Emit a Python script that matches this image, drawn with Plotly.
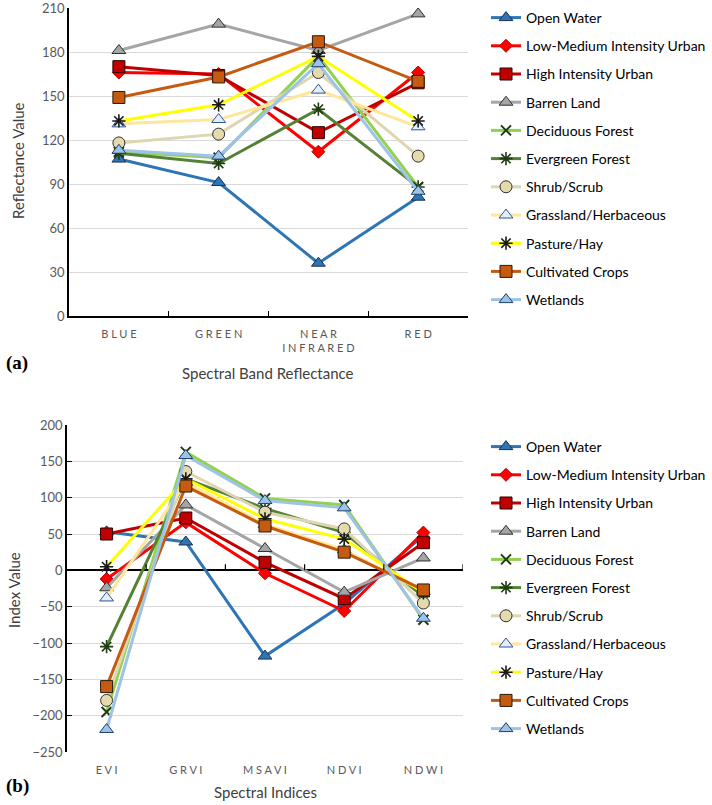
import plotly.graph_objects as go

# ---------------- data ----------------
bands = ["BLUE", "GREEN", "NEAR INFRARED", "RED"]
band_labels = ["B L U E", "G R E E N", "N E A R<br>I N F R A R E D", "R E D"]
indices = ["EVI", "GRVI", "MSAVI", "NDVI", "NDWI"]
index_labels = ["E V I", "G R V I", "M S A V I", "N D V I", "N D W I"]

classes = ["Open Water", "Low-Medium Intensity Urban", "High Intensity Urban",
           "Barren Land", "Deciduous Forest", "Evergreen Forest", "Shrub/Scrub",
           "Grassland/Herbaceous", "Pasture/Hay", "Cultivated Crops", "Wetlands"]

# reflectance per band (BLUE, GREEN, NEAR INFRARED, RED)
refl_open_water = [107, 91, 36, 81]
refl_low_med_urban = [166, 165, 112, 166]
refl_high_urban = [170, 164, 125, 159]
refl_barren = [181, 199, 181, 206]
refl_deciduous = [112, 108, 177, 88]
refl_evergreen = [111, 104, 141, 88]
refl_shrub = [118, 124, 166, 109]
refl_grassland = [131, 134, 154, 129]
refl_pasture = [133, 144, 177, 133]
refl_cultivated = [149, 163, 187, 160]
refl_wetlands = [113, 109, 172, 85]

# index values (EVI, GRVI, MSAVI, NDVI, NDWI)
idx_open_water = [53, 39, -118, -46, 48]
idx_low_med_urban = [-12, 66, -4, -56, 52]
idx_high_urban = [50, 72, 11, -39, 38]
idx_barren = [-24, 90, 30, -30, 17]
idx_deciduous = [-195, 163, 99, 90, -68]
idx_evergreen = [-105, 126, 85, 52, -36]
idx_shrub = [-179, 136, 80, 57, -45]
idx_grassland = [-38, 121, 63, 28, -29]
idx_pasture = [5, 126, 71, 43, -31]
idx_cultivated = [-160, 116, 61, 25, -27]
idx_wetlands = [-219, 158, 96, 86, -66]

refl_values = [refl_open_water, refl_low_med_urban, refl_high_urban, refl_barren,
               refl_deciduous, refl_evergreen, refl_shrub, refl_grassland,
               refl_pasture, refl_cultivated, refl_wetlands]
idx_values = [idx_open_water, idx_low_med_urban, idx_high_urban, idx_barren,
              idx_deciduous, idx_evergreen, idx_shrub, idx_grassland,
              idx_pasture, idx_cultivated, idx_wetlands]

# ---------------- styles ----------------
line_colors = ["#2E75B6", "#FF0000", "#C00000", "#A5A5A5", "#92D050", "#548235",
               "#DDD6B0", "#FFE699", "#FFFF00", "#C55A11", "#9DC3E6"]
marker_symbols = ["triangle-up", "diamond", "square", "triangle-up", "x-thin",
                  "asterisk-open", "circle", "triangle-up", "asterisk-open",
                  "square", "triangle-up"]
marker_fills = ["#2E75B6", "#FF0000", "#C00000", "#A5A5A5", "#92D050", "#1E3B12",
                "#E4DAAB", "#E3EEF9", "#1A1A1A", "#C55A11", "#9DC3E6"]
marker_lines = ["#1F2F4F", "#B00000", "#2A0000", "#303030", "#1E3B12", "#1E3B12",
                "#303030", "#2F5597", "#1A1A1A", "#2A1A0A", "#1F3F6F"]
marker_sizes = [12, 10, 12, 12, 10, 11, 12, 12, 11, 12, 12]
marker_lw = [1, 1, 1, 1, 2, 1.6, 1, 1, 1.6, 1, 1]

W, H = 712, 805
FONT = "Lato"

fig = go.Figure()

for i, name in enumerate(classes):
    mk = dict(symbol=marker_symbols[i], size=marker_sizes[i], color=marker_fills[i],
              line=dict(color=marker_lines[i], width=marker_lw[i]))
    fig.add_trace(go.Scatter(
        x=bands, y=refl_values[i], name=name, mode="lines+markers",
        line=dict(color=line_colors[i], width=3), marker=mk,
        xaxis="x", yaxis="y", legend="legend", legendgroup="a%d" % i))
for i, name in enumerate(classes):
    mk = dict(symbol=marker_symbols[i], size=marker_sizes[i], color=marker_fills[i],
              line=dict(color=marker_lines[i], width=marker_lw[i]))
    fig.add_trace(go.Scatter(
        x=indices, y=idx_values[i], name=name, mode="lines+markers",
        line=dict(color=line_colors[i], width=3), marker=mk,
        xaxis="x2", yaxis="y2", legend="legend2", legendgroup="b%d" % i))

def px(v):
    return v / W

def py(v):
    return 1 - v / H

tick_font = dict(family=FONT, size=13, color="#595959")
cat_font = dict(family=FONT, size=11, color="#595959")
leg_font = dict(family=FONT, size=14, color="#000000")

# top chart: plot area x 69..468, y 8..316
# bottom chart: plot area x 67..463, y 425..752
fig.update_layout(
    width=W, height=H,
    margin=dict(l=0, r=0, t=0, b=0, autoexpand=False),
    paper_bgcolor="white", plot_bgcolor="white",
    font=dict(family=FONT, color="#404040"),
    showlegend=True,
    xaxis=dict(domain=[px(69), px(468)], anchor="y", type="category",
               categoryorder="array", categoryarray=bands,
               tickmode="array", tickvals=bands, ticktext=band_labels,
               range=[-0.5, 3.5], showgrid=False, zeroline=False,
               showline=True, linecolor="#000000", linewidth=1.5,
               ticks="inside", tickson="boundaries", ticklen=5,
               tickcolor="#000000", tickfont=cat_font, automargin=False,
               ticklabelstandoff=7, ticklabeloverflow="allow"),
    yaxis=dict(domain=[py(316), py(8)], anchor="x", range=[0, 210], dtick=30,
               tick0=0, showgrid=True, gridcolor="#D9D9D9", gridwidth=1.2,
               zeroline=False, showline=True, linecolor="#000000", linewidth=1.5,
               ticks="", tickfont=tick_font, automargin=False,
               ticklabeloverflow="allow"),
    xaxis2=dict(domain=[px(67), px(463)], anchor="y2", type="category",
                categoryorder="array", categoryarray=indices,
                tickmode="array", tickvals=indices, ticktext=index_labels,
                range=[-0.5, 4.5], showgrid=False, zeroline=False,
                showline=False, ticks="", tickfont=cat_font,
                ticklabelstandoff=10, automargin=False, ticklabeloverflow="allow"),
    yaxis2=dict(domain=[py(752), py(425)], anchor="x2", range=[-250, 200], dtick=50,
                tick0=0, showgrid=True, gridcolor="#D9D9D9", gridwidth=1.2,
                zeroline=True, zerolinecolor="#000000", zerolinewidth=1.5,
                showline=True, linecolor="#000000", linewidth=1.5,
                ticks="inside", ticklen=5, tickcolor="#000000", tickfont=tick_font,
                automargin=False, ticklabeloverflow="allow"),
    legend=dict(x=px(486), y=py(2), xanchor="left", yanchor="top",
                font=leg_font, tracegroupgap=7, bgcolor="rgba(0,0,0,0)",
                itemwidth=30),
    legend2=dict(x=px(486), y=py(431), xanchor="left", yanchor="top",
                 font=leg_font, tracegroupgap=7, bgcolor="rgba(0,0,0,0)",
                 itemwidth=30),
)

# tick marks on the zero line of the bottom chart (category boundaries)
for k in range(len(indices)):
    fig.add_shape(type="line", xref="x2", yref="y2", x0=k + 0.5, x1=k + 0.5,
                  ysizemode="pixel", yanchor=0, y0=0, y1=6,
                  line=dict(color="#000000", width=1.2))

ann = [
    dict(text="Reflectance Value", x=px(18), y=py(161), textangle=-90,
         xanchor="center", font=dict(family=FONT, size=15, color="#404040")),
    dict(text="Index Value", x=px(14), y=py(590), textangle=-90,
         xanchor="center", font=dict(family=FONT, size=15, color="#404040")),
    dict(text="Spectral Band Reflectance", x=px(268), y=py(373),
         xanchor="center", font=dict(family=FONT, size=15, color="#404040")),
    dict(text="Spectral Indices", x=px(265), y=py(792),
         xanchor="center", font=dict(family=FONT, size=15, color="#404040")),
    dict(text="<b>(a)</b>", x=px(4), y=py(363), xanchor="left",
         font=dict(family="Liberation Serif", size=19, color="#000000")),
    dict(text="<b>(b)</b>", x=px(4), y=py(786), xanchor="left",
         font=dict(family="Liberation Serif", size=19, color="#000000")),
]
for a in ann:
    fig.add_annotation(xref="paper", yref="paper", showarrow=False,
                       yanchor="middle", **a)

fig.write_html("out.html", config={"displayModeBar": False},
               post_script="document.body.style.margin='0';document.body.style.overflow='hidden';")
